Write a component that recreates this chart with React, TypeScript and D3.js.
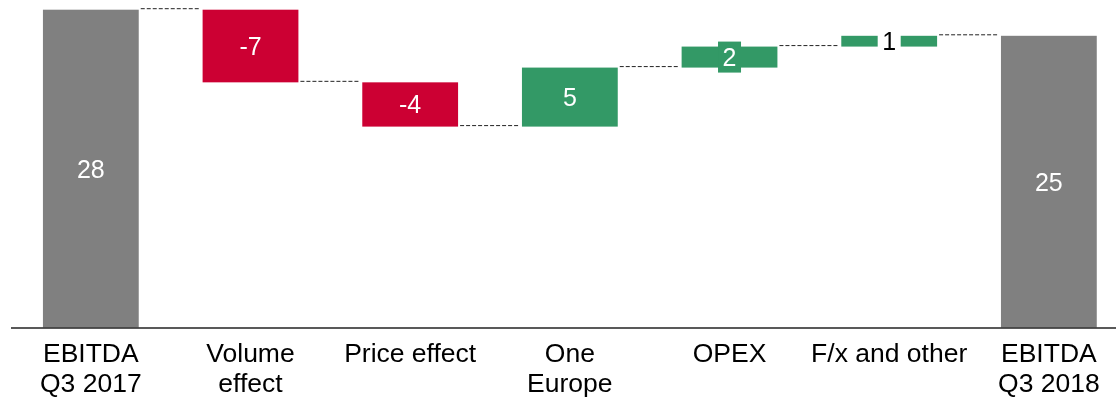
import React from "react";
import * as d3 from "d3";

// waterfall steps (first and last are totals, the rest are deltas)
const categories = [
  "EBITDA\nQ3 2017",
  "Volume\neffect",
  "Price effect",
  "One\nEurope",
  "OPEX",
  "F/x and other",
  "EBITDA\nQ3 2018",
];
const values = [28, -6.4, -3.9, 5.2, 1.85, 0.95, 25.7];
const isTotal = [true, false, false, false, false, false, true];
const valueLabels = ["28", "-7", "-4", "5", "2", "1", "25"];

const W = 1116;
const H = 400;
const GRAY = "#808080";
const RED = "#CC0033";
const GREEN = "#339966";
const FONT = "'Liberation Sans', Arial, sans-serif";

function App() {
  const x = d3
    .scaleBand()
    .domain(categories)
    .range([11, 1128.7])
    .paddingInner(0.4)
    .paddingOuter(0.2);

  const y = d3.scaleLinear().domain([0, 28]).range([327.5, 9.7]);

  // build running totals
  let run = 0;
  const bars = categories.map((c, i) => {
    let y0, y1;
    if (isTotal[i]) {
      y0 = 0;
      y1 = values[i];
      run = values[i];
    } else {
      y0 = run;
      y1 = run + values[i];
      run = y1;
    }
    const color = isTotal[i] ? GRAY : values[i] < 0 ? RED : GREEN;
    return { c, i, y0, y1, end: run, color, label: valueLabels[i] };
  });

  const bw = x.bandwidth();

  return (
    <svg
      width={W}
      height={H}
      style={{ position: "fixed", left: 0, top: 0 }}
      fontFamily={FONT}
    >
      {/* connectors */}
      {bars.slice(0, -1).map((b, k) => {
        const next = bars[k + 1];
        const yy = y(b.end);
        return (
          <line
            key={"c" + k}
            x1={x(b.c)! + bw + 2}
            x2={x(next.c)! - 2}
            y1={yy - 1}
            y2={yy - 1}
            stroke="#222"
            strokeWidth={1}
            strokeDasharray="4,2"
          />
        );
      })}

      {bars.map((b) => {
        const top = y(Math.max(b.y0, b.y1));
        const bot = y(Math.min(b.y0, b.y1));
        const h = bot - top;
        const cx = x(b.c)! + bw / 2;
        const cy = (top + bot) / 2;
        const small = h < 30;
        const tiny = h < 12;
        return (
          <g key={b.c}>
            <rect x={x(b.c)} y={top} width={bw} height={h} fill={b.color} />
            {small && (
              <rect
                x={cx - 11.5}
                y={cy - 15.5}
                width={23}
                height={31}
                fill={tiny ? "#fff" : b.color}
              />
            )}
            <text
              x={cx}
              y={cy}
              dy="0.36em"
              textAnchor="middle"
              fontSize={25}
              fill={tiny ? "#000" : "#fff"}
            >
              {b.label}
            </text>
          </g>
        );
      })}

      {/* axis line */}
      <line x1={11} x2={W} y1={328} y2={328} stroke="#222" strokeWidth={1.4} />

      {categories.map((c) => {
        const lines = c.split("\n");
        const cx = x(c)! + bw / 2;
        return (
          <text key={"t" + c} x={cx} y={362} textAnchor="middle" fontSize={26.5} fill="#000">
            {lines.map((l, j) => (
              <tspan key={j} x={cx} dy={j === 0 ? 0 : 30}>
                {l}
              </tspan>
            ))}
          </text>
        );
      })}
    </svg>
  );
}

export default App;
